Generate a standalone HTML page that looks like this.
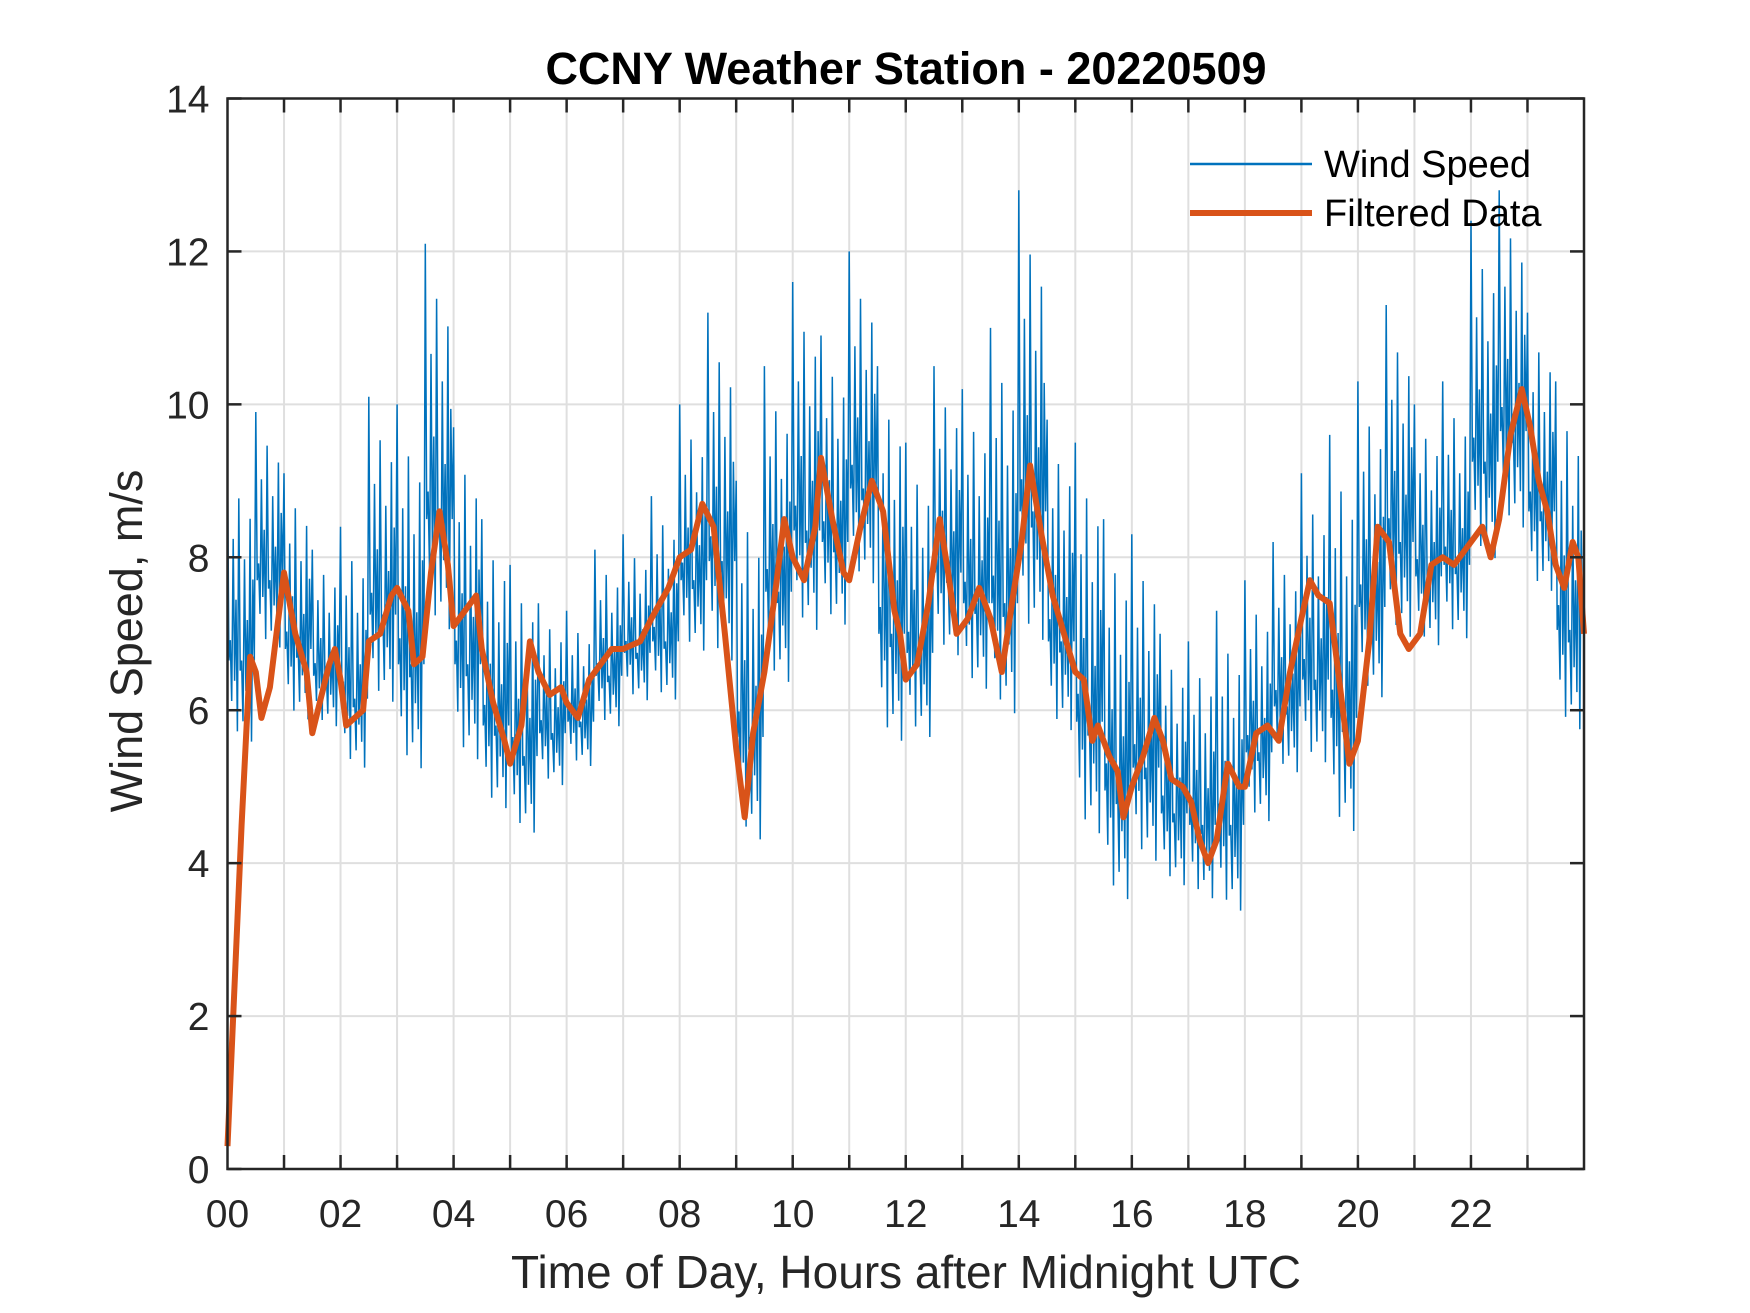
<!DOCTYPE html>
<html><head><meta charset="utf-8"><style>
html,body{margin:0;padding:0;background:#fff}
svg{display:block}
text{font-family:"Liberation Sans",Arial,sans-serif;fill:#262626}
</style></head><body>
<svg id="chart" width="1750" height="1313" viewBox="0 0 1750 1313" xmlns="http://www.w3.org/2000/svg">
<rect width="1750" height="1313" fill="#fff"/>
<g id="grid"></g>
<g id="series"></g>
<g id="axes"></g>
<text x="906" y="84" text-anchor="middle" font-size="45" font-weight="bold" style="fill:#000">CCNY Weather Station - 20220509</text>
<text x="906" y="1303" text-anchor="middle" font-size="46" transform="translate(0,-15)">Time of Day, Hours after Midnight UTC</text>
<text transform="translate(142,641) rotate(-90)" text-anchor="middle" font-size="45">Wind Speed, m/s</text>
<g>
<line x1="1190" y1="164" x2="1312" y2="164" stroke="#0072BD" stroke-width="2.5"/>
<text x="1324" y="177" font-size="38" style="fill:#000">Wind Speed</text>
<line x1="1190" y1="213" x2="1312" y2="213" stroke="#D95319" stroke-width="6"/>
<text x="1324" y="226" font-size="38" style="fill:#000">Filtered Data</text>
</g>
</svg>
<script>
const xTickLabels = ["00","02","04","06","08","10","12","14","16","18","20","22"];
const yTickValues = [0,2,4,6,8,10,12,14];
// half-hour bins: upper and lower envelope of raw wind speed (m/s)
const windHigh = [9.3,9.9,9.1,8.1,8.4,10.1,10.0,12.1,9.7,8.5,7.9,7.4,7.3,8.1,8.3,8.8,10.0,11.2,9.0,10.5,11.6,10.9,12.0,10.5,9.5,10.5,10.2,11.0,12.8,9.8,9.5,8.5,8.3,7.0,6.9,7.3,7.7,8.2,9.1,9.6,10.3,11.3,10.0,10.3,12.4,12.8,11.2,10.3];
const windLow  = [4.0,5.5,4.5,4.8,3.9,4.4,3.2,4.9,3.5,3.1,2.9,4.0,4.4,4.8,5.2,5.0,5.4,4.7,2.3,4.6,5.1,5.5,5.8,3.5,4.0,5.1,4.6,3.8,4.4,4.0,2.2,1.4,2.2,2.3,2.1,1.7,3.2,3.9,3.7,2.2,4.4,5.1,5.5,5.5,6.1,6.5,6.0,3.8];
const filtHours = [0,0.1,0.25,0.4,0.5,0.6,0.75,1.0,1.2,1.4,1.5,1.6,1.8,1.9,2.0,2.1,2.4,2.5,2.7,2.9,3.0,3.2,3.3,3.45,3.6,3.75,3.9,4.0,4.2,4.4,4.5,4.7,4.9,5.0,5.2,5.35,5.5,5.7,5.9,6.0,6.2,6.4,6.6,6.8,7.0,7.3,7.5,7.8,8.0,8.2,8.4,8.6,8.8,9.0,9.15,9.3,9.5,9.7,9.85,10.0,10.2,10.4,10.5,10.7,10.9,11.0,11.2,11.3,11.4,11.6,11.8,11.9,12.0,12.2,12.4,12.6,12.75,12.9,13.1,13.3,13.5,13.7,13.9,14.05,14.2,14.4,14.6,14.8,15.0,15.15,15.3,15.4,15.6,15.75,15.85,16.0,16.2,16.4,16.55,16.7,16.9,17.05,17.2,17.35,17.5,17.7,17.9,18.0,18.2,18.4,18.6,18.8,19.0,19.15,19.3,19.5,19.7,19.85,20.0,20.2,20.35,20.55,20.75,20.9,21.1,21.3,21.5,21.7,21.9,22.0,22.2,22.35,22.5,22.7,22.9,23.05,23.2,23.35,23.5,23.65,23.8,23.9,24.0];
const filtValues = [0.3,2,4.5,6.7,6.5,5.9,6.3,7.8,7.0,6.5,5.7,6.0,6.6,6.8,6.4,5.8,6.0,6.9,7.0,7.5,7.6,7.3,6.6,6.7,7.8,8.6,7.9,7.1,7.3,7.5,6.8,6.1,5.6,5.3,5.8,6.9,6.5,6.2,6.3,6.1,5.9,6.4,6.6,6.8,6.8,6.9,7.2,7.6,8.0,8.1,8.7,8.4,7.0,5.5,4.6,5.7,6.5,7.6,8.5,8.0,7.7,8.4,9.3,8.5,7.8,7.7,8.4,8.7,9.0,8.6,7.3,7.0,6.4,6.6,7.4,8.5,7.8,7.0,7.2,7.6,7.2,6.5,7.5,8.2,9.2,8.3,7.5,7.0,6.5,6.4,5.6,5.8,5.4,5.2,4.6,5.0,5.4,5.9,5.6,5.1,5.0,4.8,4.3,4.0,4.3,5.3,5.0,5.0,5.7,5.8,5.6,6.5,7.2,7.7,7.5,7.4,6.2,5.3,5.6,6.9,8.4,8.2,7.0,6.8,7.0,7.9,8.0,7.9,8.1,8.2,8.4,8.0,8.5,9.6,10.2,9.7,9.0,8.6,7.9,7.6,8.2,8.0,7.0];

const L=227.5,R=1584,T=98.5,B=1169;
const xMin=0,xMax=24,yMin=0,yMax=14;
const xs=h=>L+(h-xMin)/(xMax-xMin)*(R-L);
const ys=v=>B-(v-yMin)/(yMax-yMin)*(B-T);
const NS="http://www.w3.org/2000/svg";
function mk(tag,attrs,parent){const e=document.createElementNS(NS,tag);for(const k in attrs)e.setAttribute(k,attrs[k]);parent.appendChild(e);return e;}
const grid=document.getElementById('grid'),axes=document.getElementById('axes'),series=document.getElementById('series');

for(let h=1;h<24;h++){
  const g=mk('line',{x1:xs(h),x2:xs(h),y1:T,y2:B,stroke:'#dfdfdf','stroke-width':2},grid);
  
  
  mk('line',{x1:xs(h),x2:xs(h),y1:B,y2:B-14,stroke:'#262626','stroke-width':2.5},axes);
  mk('line',{x1:xs(h),x2:xs(h),y1:T,y2:T+14,stroke:'#262626','stroke-width':2.5},axes);
}
xTickLabels.forEach((lab,i)=>{
  const t=mk('text',{x:xs(i*2),y:1227,'text-anchor':'middle','font-size':39},axes);
  t.textContent=lab;
  
  
});
yTickValues.forEach(v=>{
  if(v>yMin&&v<yMax){
    const g=mk('line',{x1:L,x2:R,y1:ys(v),y2:ys(v),stroke:'#dfdfdf','stroke-width':2},grid);
    
    
  }
  mk('line',{x1:L,x2:L+14,y1:ys(v),y2:ys(v),stroke:'#262626','stroke-width':2.5},axes);
  mk('line',{x1:R,x2:R-14,y1:ys(v),y2:ys(v),stroke:'#262626','stroke-width':2.5},axes);
  const t=mk('text',{x:L-18,y:ys(v)+14,'text-anchor':'end','font-size':39},axes);
  t.textContent=v;
  
  
});
const box=mk('rect',{x:L,y:T,width:R-L,height:B-T,fill:'none',stroke:'#262626','stroke-width':2.5},axes);



const mix=[1,0,0.55,0.2,0.8,0.1,0.65,0.35,0.9,0.05,0.5,0.3,0.75,0.15,0.6,0.25,0.85,0.4,0.7,0.0];
let d='';
windHigh.forEach((hi,i)=>{
  const lo=windLow[i];
  const n=mix.length;
  for(let k=0;k<n;k++){
    const h=i*0.5+k*0.5/n;
    const f=mix[k];
    const v=lo+(hi-lo)*(k%2===0?f:(1-f)*0.5);
    d+=(d?'L':'M')+xs(h).toFixed(1)+','+ys(v).toFixed(1);
  }
});
const raw=mk('path',{d:d,fill:'none',stroke:'#0072BD','stroke-width':1.5,'stroke-linejoin':'miter'},series);



let fd='';
filtHours.forEach((h,i)=>{fd+=(i?'L':'M')+xs(h).toFixed(1)+','+ys(filtValues[i]).toFixed(1);});
const filt=mk('path',{d:fd,fill:'none',stroke:'#D95319','stroke-width':6,'stroke-linejoin':'round'},series);


</script>
</body></html>
